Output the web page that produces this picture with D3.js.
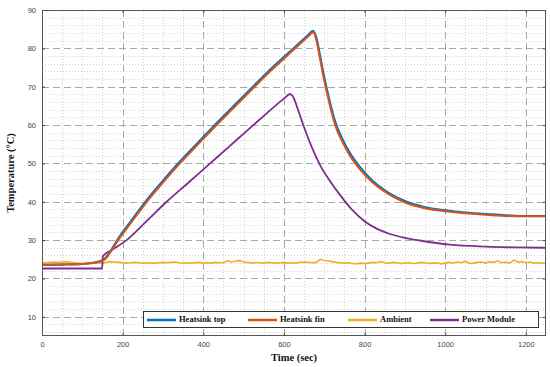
<!DOCTYPE html>
<html>
<head>
<meta charset="utf-8">
<script src="https://cdn.jsdelivr.net/npm/d3@7"></script>
<style>
  body { margin: 0; background: #fff; }
  svg { display: block; }
  .serif { font-family: "Liberation Serif", "DejaVu Serif", serif; font-weight: bold; }
  .sans { font-family: "Liberation Sans", Arial, sans-serif; }
</style>
</head>
<body>
<script>
// series, [time (sec), temperature (°C)]
var heatsinkFin = [
  [0, 23.6], [50, 23.7], [100, 23.8], [130, 24.1], [150, 24.6], [160, 25.4],
  [173, 27.4], [189, 30], [220, 34.4], [260, 40], [300, 45], [342, 50],
  [380, 54.2], [421, 58.7], [466, 63.5], [516, 68.8], [570, 74.4], [630, 80.2],
  [660, 83.1], [673, 84.2], [680, 82.3], [690, 77], [698, 72.6], [712, 66],
  [727, 60], [745, 55.6], [765, 51.8], [790, 48.3], [820, 45.0], [850, 42.6],
  [896, 40], [950, 38.3], [1000, 37.5], [1050, 37.0], [1100, 36.6],
  [1150, 36.3], [1200, 36.2], [1250, 36.2]
];
var heatsinkTop = [
  [0, 23.5], [50, 23.6], [100, 23.8], [130, 24.2], [150, 24.8], [160, 25.7],
  [173, 27.7], [189, 30.4], [220, 34.9], [260, 40.5], [300, 45.5], [342, 50.5],
  [380, 54.7], [421, 59.2], [466, 64.0], [516, 69.3], [570, 74.9], [630, 80.6],
  [660, 83.5], [672, 84.6], [680, 83.0], [690, 78], [698, 73.6], [712, 67.0],
  [727, 61], [745, 56.4], [765, 52.5], [790, 48.9], [820, 45.5], [850, 43.0],
  [896, 40.4], [950, 38.6], [1000, 37.8], [1050, 37.2], [1100, 36.8],
  [1150, 36.5], [1200, 36.3], [1250, 36.3]
];
var powerModule = [
  [0, 22.6], [100, 22.6], [149, 22.6], [151, 25.8], [173, 27.4], [210, 30],
  [260, 35], [309, 40], [360, 44.7], [417, 50], [460, 54.0], [508, 58.5],
  [560, 63.3], [600, 66.9], [615, 68.1], [622, 67.5], [635, 64], [648, 60],
  [668, 54.5], [690, 49.5], [715, 45.3], [739, 41.8], [770, 37.8], [799, 35.0],
  [830, 33.0], [863, 31.6], [900, 30.6], [937, 29.9], [1012, 28.8],
  [1100, 28.3], [1175, 28.1], [1250, 28.0]
];
// ambient sampled every 10 s from 0 to 1250
var ambientStart = 0, ambientStep = 10;
var ambient = [
  24.0,24.1,24.2,24.3,24.2,24.3,24.4,24.2,24.1,24.0,
  23.9,24.0,23.9,24.0,24.1,24.0,24.2,24.4,24.3,24.2,
  24.1,24.0,24.1,24.2,24.1,24.0,24.1,24.0,24.0,24.1,
  24.2,24.1,24.2,24.3,24.1,24.0,24.1,24.0,24.1,24.2,
  24.0,24.1,24.0,24.2,24.1,24.1,24.6,24.3,24.5,24.7,
  24.3,24.2,24.0,24.1,24.1,24.0,24.2,24.1,24.0,24.1,
  24.2,24.0,24.1,24.0,24.2,24.3,24.2,24.1,24.2,25.0,
  24.7,24.6,24.4,24.2,24.1,24.0,24.1,23.9,23.8,24.0,
  23.9,24.0,24.2,24.1,24.4,24.1,24.0,24.2,24.1,23.9,
  24.0,24.1,23.9,24.0,24.2,24.1,23.9,24.0,24.1,23.8,
  24.0,24.2,24.0,24.3,24.1,24.5,23.9,24.0,24.2,24.3,
  24.0,24.4,24.2,24.6,24.1,24.3,24.0,24.8,24.3,24.4,
  24.1,24.3,24.0,24.1,24.0,23.9
];

var seriesNames = ["Heatsink top", "Heatsink fin", "Ambient", "Power Module"];
var seriesColors = ["#0072BD", "#D95319", "#EDB120", "#7E2F8E"];
var xTicks = [0, 200, 400, 600, 800, 1000, 1200];
var yTicks = [10, 20, 30, 40, 50, 60, 70, 80, 90];

var width = 550, height = 367;
var margin = {top: 10, right: 4, bottom: 31, left: 42};

var svg = d3.select("body").append("svg")
  .attr("width", width)
  .attr("height", height)
  .attr("viewBox", [0, 0, width, height]);

var x = d3.scaleLinear()
  .domain([0, 1250])
  .range([margin.left, width - margin.right]);

var y = d3.scaleLinear()
  .domain([5, 90])
  .range([height - margin.bottom, margin.top]);

// minor dotted grid
svg.append("g")
  .attr("stroke", "#c8c8c8")
  .attr("stroke-width", 0.8)
  .attr("stroke-dasharray", "1,2")
  .call(g => g.append("g")
    .selectAll("line")
    .data(d3.range(50, 1250, 50).filter(d => d % 200 !== 0))
    .join("line")
      .attr("x1", d => 0.5 + Math.round(x(d)))
      .attr("x2", d => 0.5 + Math.round(x(d)))
      .attr("y1", y(5))
      .attr("y2", y(90)))
  .call(g => g.append("g")
    .selectAll("line")
    .data(d3.range(6, 90, 2).filter(d => d % 10 !== 0))
    .join("line")
      .attr("y1", d => 0.5 + Math.round(y(d)))
      .attr("y2", d => 0.5 + Math.round(y(d)))
      .attr("x1", x(0))
      .attr("x2", x(1250)));

// major dashed grid
svg.append("g")
  .attr("stroke", "#a8a8a8")
  .attr("stroke-width", 1)
  .attr("stroke-dasharray", "7,4")
  .call(g => g.append("g")
    .selectAll("line")
    .data(xTicks.slice(1))
    .join("line")
      .attr("x1", d => 0.5 + Math.round(x(d)))
      .attr("x2", d => 0.5 + Math.round(x(d)))
      .attr("y1", y(5))
      .attr("y2", y(90)))
  .call(g => g.append("g")
    .selectAll("line")
    .data(yTicks.slice(0, -1))
    .join("line")
      .attr("y1", d => 0.5 + Math.round(y(d)))
      .attr("y2", d => 0.5 + Math.round(y(d)))
      .attr("x1", x(0))
      .attr("x2", x(1250)));

var tickStyle = g => {
  g.select(".domain").remove();
  g.selectAll(".tick line").attr("stroke", "#444");
  g.selectAll(".tick text")
    .attr("class", "sans")
    .attr("fill", "#444")
    .attr("font-size", 7.5);
};

svg.append("g")
  .attr("transform", `translate(0,${height - margin.bottom})`)
  .call(d3.axisBottom(x).tickValues(xTicks).tickFormat(d3.format("d"))
    .tickSizeInner(-3).tickSizeOuter(0).tickPadding(6))
  .call(tickStyle);

svg.append("g")
  .attr("transform", `translate(${margin.left},0)`)
  .call(d3.axisLeft(y).tickValues(yTicks).tickFormat(d3.format("d"))
    .tickSizeInner(-3).tickSizeOuter(0).tickPadding(6))
  .call(tickStyle);

svg.append("g")
  .attr("transform", `translate(${width - margin.right},0)`)
  .call(d3.axisRight(y).tickValues(yTicks).tickSizeInner(-3).tickSizeOuter(0).tickFormat(""))
  .call(tickStyle);

svg.append("g")
  .attr("transform", `translate(0,${margin.top})`)
  .call(d3.axisTop(x).tickValues(xTicks).tickSizeInner(-3).tickSizeOuter(0).tickFormat(""))
  .call(tickStyle);

// data lines
var line = d3.line()
  .curve(d3.curveMonotoneX)
  .x(d => x(d[0]))
  .y(d => y(d[1]));

var ambientLine = d3.line()
  .x((d, i) => x(ambientStart + i * ambientStep))
  .y(d => y(d));

var plot = svg.append("g").attr("fill", "none");

plot.append("path")
  .datum(ambient)
  .attr("stroke", seriesColors[2])
  .attr("stroke-width", 1.6)
  .attr("d", ambientLine);

plot.append("path")
  .datum(powerModule)
  .attr("stroke", seriesColors[3])
  .attr("stroke-width", 1.8)
  .attr("d", line);

plot.append("path")
  .datum(heatsinkTop)
  .attr("stroke", seriesColors[0])
  .attr("stroke-width", 2)
  .attr("d", line);

plot.append("path")
  .datum(heatsinkFin)
  .attr("stroke", seriesColors[1])
  .attr("stroke-width", 2)
  .attr("d", line);

// frame
svg.append("rect")
  .attr("x", x(0) + 0.5)
  .attr("y", y(90) + 0.5)
  .attr("width", x(1250) - x(0) - 1)
  .attr("height", y(5) - y(90) - 1)
  .attr("fill", "none")
  .attr("stroke", "#555")
  .attr("stroke-width", 1);

// axis titles
svg.append("text")
  .attr("class", "serif")
  .attr("x", (x(0) + x(1250)) / 2)
  .attr("y", 361)
  .attr("text-anchor", "middle")
  .attr("font-size", 10.5)
  .attr("fill", "#111")
  .text("Time (sec)");

svg.append("text")
  .attr("class", "serif")
  .attr("transform", `translate(14,${(y(5) + y(90)) / 2}) rotate(-90)`)
  .attr("text-anchor", "middle")
  .attr("font-size", 10.5)
  .attr("fill", "#111")
  .text("Temperature (°C)");

// legend
var legend = svg.append("g");
legend.append("rect")
  .attr("x", 143.5)
  .attr("y", 311.5)
  .attr("width", 395)
  .attr("height", 16)
  .attr("fill", "#fff")
  .attr("stroke", "#333");

var legendX = [147, 248, 348, 430];
seriesNames.forEach((name, i) => {
  legend.append("line")
    .attr("x1", legendX[i])
    .attr("x2", legendX[i] + 29)
    .attr("y1", 320)
    .attr("y2", 320)
    .attr("stroke", seriesColors[i])
    .attr("stroke-width", 2.5);
  legend.append("text")
    .attr("class", "serif")
    .attr("x", legendX[i] + 32)
    .attr("y", 319.5)
    .attr("dy", "0.32em")
    .attr("font-size", 8.5)
    .attr("fill", "#111")
    .text(name);
});
</script>
</body>
</html>
